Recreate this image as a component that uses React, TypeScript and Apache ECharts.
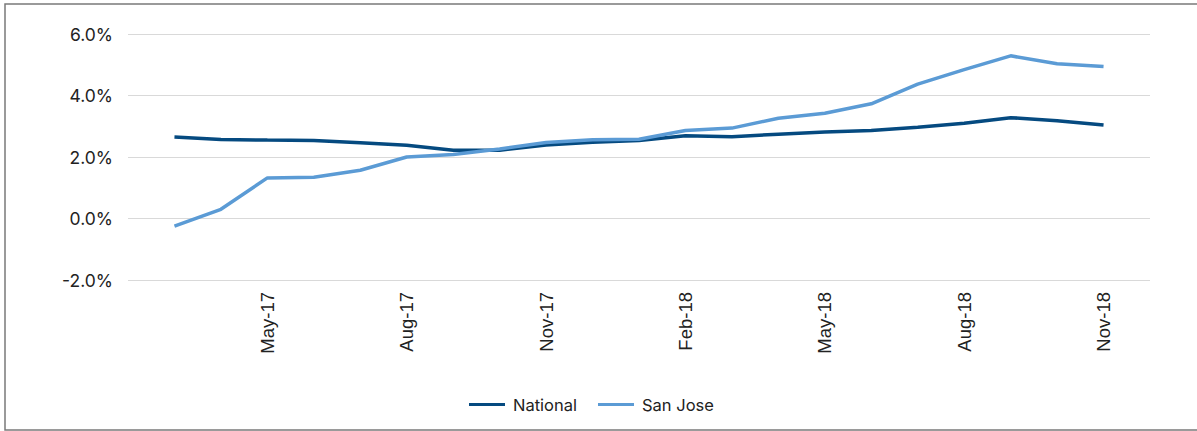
import React, { useEffect, useRef } from "react";
import * as echarts from "echarts";

const months = [
  "Feb-17", "Mar-17", "Apr-17", "May-17", "Jun-17", "Jul-17", "Aug-17", "Sep-17", "Oct-17", "Nov-17", "Dec-17",
  "Jan-18", "Feb-18", "Mar-18", "Apr-18", "May-18", "Jun-18", "Jul-18", "Aug-18", "Sep-18", "Oct-18", "Nov-18", "Dec-18",
];
// Values from Mar-17 to Nov-18
const national = [2.65, 2.57, 2.55, 2.54, 2.46, 2.38, 2.22, 2.22, 2.39, 2.48, 2.54, 2.69, 2.66, 2.74, 2.81, 2.86, 2.97, 3.1, 3.28, 3.18, 3.04];
const sanJose = [-0.25, 0.3, 1.32, 1.34, 1.57, 2.0, 2.08, 2.26, 2.47, 2.56, 2.58, 2.86, 2.94, 3.26, 3.42, 3.73, 4.37, 4.84, 5.29, 5.03, 4.94];
const yTicks = [-2, 0, 2, 4, 6];

const pad = (arr: number[]) => [null, ...arr, null];

export default function App() {
  const ref = useRef<HTMLDivElement>(null);
  useEffect(() => {
    const chart = echarts.init(ref.current!, null, { renderer: "svg" });
    chart.setOption({
      animation: false,
      backgroundColor: "#fff",
      graphic: [
        {
          type: "rect",
          shape: { x: 5, y: 4, width: 1200, height: 426 },
          style: { fill: "none", stroke: "#7a7a7a", lineWidth: 1.5 },
          silent: true,
        },
      ],
      grid: { left: 128, right: 47, top: 34, bottom: 151 },
      xAxis: {
        type: "category",
        data: months,
        boundaryGap: false,
        axisLine: { show: false },
        axisTick: { show: false },
        axisLabel: {
          rotate: 90,
          margin: 12,
          interval: (i: number) => i % 3 === 0 && i > 0 && i < months.length - 1,
          fontFamily: "Liberation Sans, Arial, sans-serif",
          fontSize: 18.5,
          color: "#222",
        },
        splitLine: { show: false },
      },
      yAxis: {
        type: "value",
        min: yTicks[0],
        max: yTicks[yTicks.length - 1],
        interval: 2,
        axisLine: { show: false },
        axisTick: { show: false },
        axisLabel: {
          margin: 15,
          formatter: (v: number) => v.toFixed(1) + "%",
          fontFamily: "Inter, sans-serif",
          fontSize: 17.5,
          color: "#222",
        },
        splitLine: { lineStyle: { color: "#d9d9d9", width: 1 } },
      },
      legend: {
        left: 464,
        top: 391,
        itemWidth: 36,
        itemHeight: 3,
        itemGap: 21,
        icon: "rect",
        textStyle: { fontFamily: "Inter, sans-serif", fontSize: 16.5, color: "#222", padding: [0, 0, 0, 3] },
        data: ["National", "San Jose"],
      },
      series: [
        {
          name: "National",
          type: "line",
          data: pad(national),
          showSymbol: false,
          symbol: "none",
          lineStyle: { color: "#054a80", width: 3.5 },
          itemStyle: { color: "#054a80" },
        },
        {
          name: "San Jose",
          type: "line",
          data: pad(sanJose),
          showSymbol: false,
          symbol: "none",
          lineStyle: { color: "#5b9bd5", width: 3.5 },
          itemStyle: { color: "#5b9bd5" },
        },
      ],
    });
    return () => chart.dispose();
  }, []);
  return (
    <div
      ref={ref}
      style={{ position: "fixed", left: 0, top: 0, width: 1197, height: 431 }}
    />
  );
}
